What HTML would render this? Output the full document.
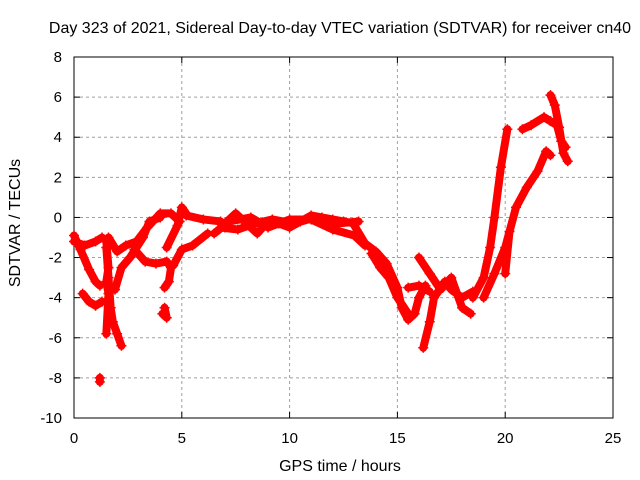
<!DOCTYPE html>
<html><head><meta charset="utf-8"><style>
body{margin:0;background:#fff;}
svg{display:block;font-family:"Liberation Sans",sans-serif;}
</style></head><body>
<svg id="c" width="640" height="480"></svg>
<script>
const xTicks=[0,5,10,15,20,25];
const yTicks=[-10,-8,-6,-4,-2,0,2,4,6,8];
const titleText="Day 323 of 2021, Sidereal Day-to-day VTEC variation (SDTVAR) for receiver cn40";
const traces=[
[[0,-0.9],[0.3,-1.6],[0.7,-2.6],[1.0,-3.2],[1.2,-3.4]],
[[0,-1.2],[0.5,-1.4],[1.0,-1.2],[1.3,-1.0]],
[[0.4,-3.8],[0.7,-4.2],[1.0,-4.4],[1.3,-4.2]],
[[1.5,-1.5],[1.6,-3],[1.7,-4.5],[1.8,-5.2],[2.0,-5.8],[2.2,-6.4]],
[[1.5,-1.2],[1.6,-2.5],[1.5,-3.2],[1.6,-3.8],[1.5,-5.8]],
[[1.6,-1.0],[2.0,-1.7],[2.4,-1.4],[2.9,-1.2],[3.4,-0.5],[4.0,0.2],[4.5,0.2],[4.9,-0.2]],
[[1.9,-3.6],[2.2,-2.5],[2.6,-2.0],[3.2,-1.0],[3.5,-0.2],[4.0,0.0]],
[[2.8,-1.6],[3.3,-2.2],[3.8,-2.3],[4.3,-2.2],[4.5,-2.5],[4.4,-3.2],[4.2,-3.5]],
[[4.2,-4.5],[4.3,-5.0],[4.1,-4.8]],
[[4.3,-1.5],[4.8,-0.4],[5.0,0.5],[5.2,0.2]],
[[4.6,-2.4],[5.0,-1.6],[5.5,-1.4],[6.2,-0.8]],
[[5.2,0.1],[6.0,-0.1],[6.8,-0.2],[7.0,-0.5]],
[[7,-0.3],[7.5,0.2],[8,-0.3],[8.5,-0.8],[9,-0.2],[9.5,-0.3],[10,-0.5],[10.5,-0.2],[11,0.1],[11.5,0],[12,-0.1],[12.5,-0.2],[13,-0.3]],
[[6.5,-0.8],[7.2,-0.2],[8.2,0],[9,-0.5],[10,-0.1],[11,-0.1],[12,-0.6],[13,-0.9],[13.5,-1.4]],
[[6.8,-0.5],[7.6,-0.6],[8.4,-0.3],[9.2,-0.1],[10.2,-0.3],[11.2,0.0],[12.2,-0.3],[13.2,-0.2]],
[[13,-0.4],[13.5,-1.3],[14,-1.7],[14.5,-2.3],[15,-3.5],[15.2,-4.5],[15.5,-5.1],[15.8,-4.8],[16,-4],[16.3,-3.4]],
[[13.8,-1.8],[14.2,-2.5],[14.6,-3],[15,-4],[15.5,-4.8]],
[[16,-2],[16.5,-2.8],[17,-3.6],[17.5,-3],[18,-4.5],[18.4,-4.8]],
[[16.2,-6.5],[16.5,-5.2],[16.7,-4],[17.2,-3.2],[17.5,-3.6],[18,-4],[18.5,-3.7]],
[[15.5,-3.5],[16,-3.4],[16.5,-3.7]],
[[18.5,-4],[19,-3],[19.3,-1.5],[19.5,0],[19.8,2.5],[20.1,4.4]],
[[19,-4],[19.5,-2.8],[20,-1.5],[20.5,0.5],[21,1.5],[21.5,2.3],[21.9,3.3],[22.1,3.1]],
[[20,-2.8],[20.2,-0.7]],
[[20.8,4.4],[21.2,4.6],[21.8,5.0],[22.1,4.8],[22.4,4.6],[22.6,3.8],[22.8,3.5]],
[[22.1,6.1],[22.3,5.6],[22.5,4.5],[22.7,3.2],[22.9,2.8]],
[[1.2,-8.0],[1.2,-8.2]]
];
const L=74,R=613,T=57,B=418;
const sx=h=>L+(h-0)/25*(R-L);
const sy=v=>B-(v+10)/18*(B-T);
const svg=document.getElementById('c');
const NS='http://www.w3.org/2000/svg';
function mk(t,a,p){const e=document.createElementNS(NS,t);for(const k in a)e.setAttribute(k,a[k]);(p||svg).appendChild(e);return e;}
const grid=mk('g',{});


xTicks.forEach(t=>{if(t>0&&t<25)mk('line',{x1:sx(t),x2:sx(t),y1:T,y2:B,stroke:'#a0a0a0','stroke-dasharray':'3,3'},grid);
const lb=mk('text',{x:sx(t),y:443,'text-anchor':'middle','font-size':15},svg);lb.textContent=t;


mk('line',{x1:sx(t),x2:sx(t),y1:B,y2:B-6,stroke:'#000'});mk('line',{x1:sx(t),x2:sx(t),y1:T,y2:T+6,stroke:'#000'});});
yTicks.forEach(t=>{if(t>-10&&t<8)mk('line',{x1:L,x2:R,y1:sy(t),y2:sy(t),stroke:'#a0a0a0','stroke-dasharray':'3,3'},grid);
const lb=mk('text',{x:62,y:sy(t)+5,'text-anchor':'end','font-size':15},svg);lb.textContent=t;


mk('line',{x1:L,x2:L+6,y1:sy(t),y2:sy(t),stroke:'#000'});mk('line',{x1:R,x2:R-6,y1:sy(t),y2:sy(t),stroke:'#000'});});
const fr=mk('rect',{x:L,y:T,width:R-L,height:B-T,fill:'none',stroke:'#000'});


const data=mk('g',{});


traces.forEach(tr=>{
const pl=mk('polyline',{points:tr.map(p=>sx(p[0])+','+sy(p[1])).join(' '),fill:'none',stroke:'#ff0000','stroke-width':8,'stroke-linejoin':'round','stroke-linecap':'round'},data);


tr.forEach(p=>{const x=sx(p[0]),y=sy(p[1]);
mk('path',{d:`M${x-5},${y}H${x+5}M${x},${y-5}V${y+5}`,stroke:'#ff0000','stroke-width':1.5},data);});
});
const tt=mk('text',{x:340,y:33,'text-anchor':'middle','font-size':16});tt.textContent=titleText;


const xt=mk('text',{x:340,y:471,'text-anchor':'middle','font-size':16});xt.textContent='GPS time / hours';


const yt=mk('text',{x:0,y:0,'text-anchor':'middle','font-size':16,transform:'translate(20,223) rotate(-90)'});yt.textContent='SDTVAR / TECUs';


</script>
</body></html>
